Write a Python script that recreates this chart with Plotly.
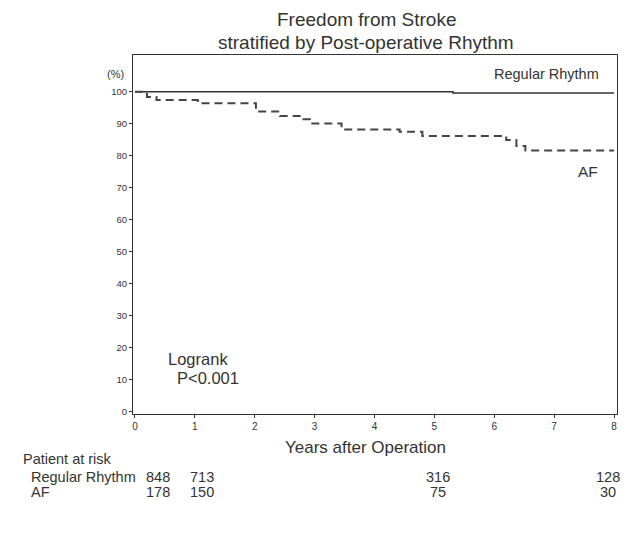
import plotly.graph_objects as go

# Data
regular_t = [0, 5.31, 8.0]
regular_s = [100, 99.6, 99.6]

af_t = [0, 0.2, 0.36, 1.05, 2.02, 2.42, 2.75, 2.92, 3.45, 4.42, 4.8, 6.2, 6.37, 6.52, 8.0]
af_s = [100, 98.4, 97.4, 96.4, 93.8, 92.4, 91.4, 90.1, 88.2, 87.5, 86.2, 84.9, 83.0, 81.6, 81.6]

x_ticks = [0, 1, 2, 3, 4, 5, 6, 7, 8]
y_ticks = [0, 10, 20, 30, 40, 50, 60, 70, 80, 90, 100]

risk_times = [0.38, 1.12, 5.06, 7.9]
risk_regular = [848, 713, 316, 128]
risk_af = [178, 150, 75, 30]

FONT = "Liberation Sans, Arial, sans-serif"
INK = "#333333"

# plot area in page pixels: x 133..617, y 55..414
PX0, PX1, PY0, PY1 = 133, 617, 55, 414
def px(x):
    return (x - PX0) / (PX1 - PX0)
def py(y):
    return (PY1 - y) / (PY1 - PY0)

fig = go.Figure()
fig.add_trace(go.Scatter(x=regular_t, y=regular_s, mode="lines", line_shape="hv",
                         line=dict(color=INK, width=1.6), showlegend=False, hoverinfo="skip"))
fig.add_trace(go.Scatter(x=af_t, y=af_s, mode="lines", line_shape="hv",
                         line=dict(color="#444444", width=2, dash="8px,5px"),
                         showlegend=False, hoverinfo="skip"))

anns = [
    dict(text="Freedom from Stroke", xref="paper", yref="paper", x=px(367), y=py(20), font=dict(size=19)),
    dict(text="stratified by Post-operative Rhythm", xref="paper", yref="paper", x=px(366), y=py(42),
         font=dict(size=19)),
    dict(text="(%)", xref="paper", yref="paper", x=px(115), y=py(74), font=dict(size=11)),
    dict(text="Regular Rhythm", xref="x", yref="y", x=6.88, y=105.6, font=dict(size=14.5)),
    dict(text="AF", xref="x", yref="y", x=7.57, y=75.0, font=dict(size=15.5)),
    dict(text="Logrank", xref="paper", yref="paper", x=px(166), y=py(359), font=dict(size=16.5),
         xanchor="left"),
    dict(text="P<0.001", xref="paper", yref="paper", x=px(175), y=py(378), font=dict(size=16.5),
         xanchor="left"),
    dict(text="Years after Operation", xref="paper", yref="paper", x=px(365), y=py(448),
         font=dict(size=17)),
    dict(text="Patient at risk", xref="paper", yref="paper", x=px(21), y=py(459),
         font=dict(size=14.5), xanchor="left"),
    dict(text="Regular Rhythm", xref="paper", yref="paper", x=px(29), y=py(477),
         font=dict(size=14.5), xanchor="left"),
    dict(text="AF", xref="paper", yref="paper", x=px(29), y=py(492),
         font=dict(size=14.5), xanchor="left"),
]
for t, r, a in zip(risk_times, risk_regular, risk_af):
    anns.append(dict(text=str(r), xref="x", yref="paper", x=t, y=py(477), font=dict(size=14.5)))
    anns.append(dict(text=str(a), xref="x", yref="paper", x=t, y=py(492), font=dict(size=14.5)))
for a in anns:
    a.setdefault("showarrow", False)
    a.setdefault("xanchor", "center")
    a["yanchor"] = "middle"
    a["font"] = dict(family=FONT, color=INK, size=a["font"]["size"])

# page body has an 8px margin, so the figure is offset by 8px
fig.update_layout(
    width=628, height=527,
    margin=dict(l=PX0 - 8, r=628 - (PX1 - 8), t=PY0 - 8, b=527 - (PY1 - 8)),
    paper_bgcolor="white", plot_bgcolor="white",
    font=dict(family=FONT, color=INK),
    annotations=anns,
    xaxis=dict(range=[-0.033, 8.05], tickvals=x_ticks, ticktext=[str(v) for v in x_ticks],
               showgrid=False, zeroline=False, showline=True, mirror=True, linecolor=INK, linewidth=1,
               ticks="outside", ticklen=3, tickcolor=INK, tickfont=dict(size=10, color=INK)),
    yaxis=dict(range=[-0.8, 111.5], tickvals=y_ticks, ticktext=[str(v) for v in y_ticks],
               showgrid=False, zeroline=False, showline=True, mirror=True, linecolor=INK, linewidth=1,
               ticks="outside", ticklen=3, tickcolor=INK, tickfont=dict(size=9.5, color=INK)),
)

fig.write_html("out.html")
